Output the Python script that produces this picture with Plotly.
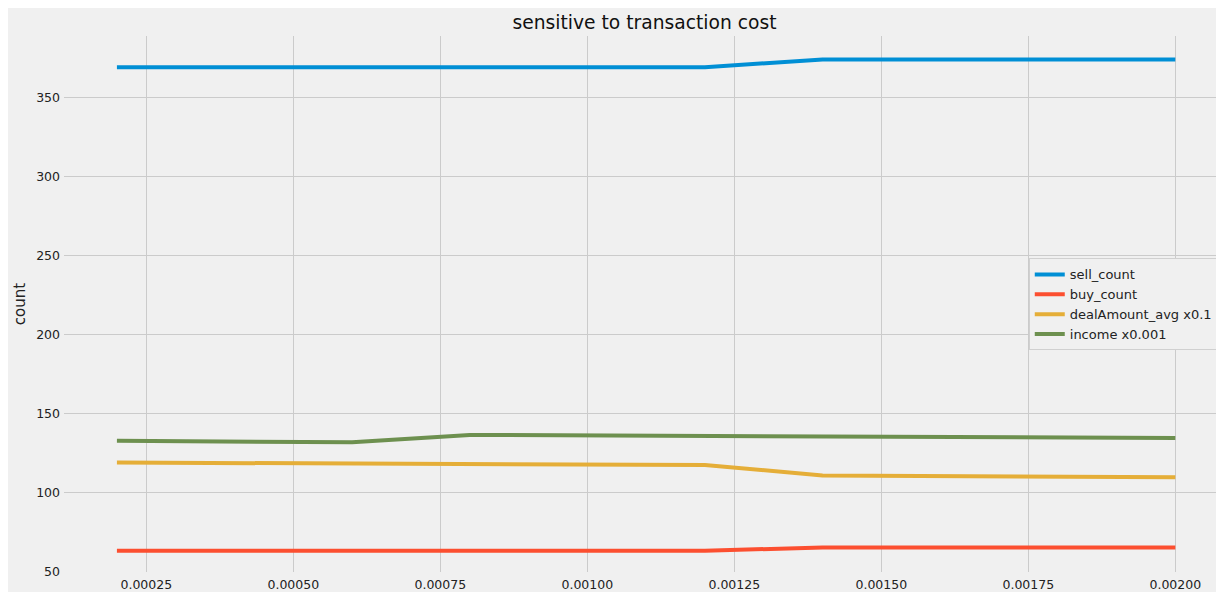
import plotly.graph_objects as go

# ---------------------------------------------------------
# DATA
# ---------------------------------------------------------

cost = [0.0002, 0.0004, 0.0006, 0.0008, 0.0010, 0.0012, 0.0014, 0.0016, 0.0018, 0.0020]

sell_count = [369, 369, 369, 369, 369, 369, 374, 374, 374, 374]
buy_count = [63, 63, 63, 63, 63, 63, 65, 65, 65, 65]
deal_amount_avg = [118.8, 118.5, 118.2, 117.9, 117.6, 117.2, 110.6, 110.2, 109.8, 109.4]
income = [132.6, 132.1, 131.6, 136.3, 136.0, 135.8, 135.6, 135.2, 134.8, 134.3]

x_ticks = [0.00025, 0.0005, 0.00075, 0.001, 0.00125, 0.0015, 0.00175, 0.002]
y_ticks = [50, 100, 150, 200, 250, 300, 350]

series = [
    ("sell_count", sell_count, "#008fd5"),
    ("buy_count", buy_count, "#fc4f30"),
    ("dealAmount_avg x0.1", deal_amount_avg, "#e5ae38"),
    ("income x0.001", income, "#6d904f"),
]

# ---------------------------------------------------------
# FIGURE
# ---------------------------------------------------------

fig = go.Figure()

for name, values, color in series:
    fig.add_trace(go.Scatter(
        x=cost,
        y=values,
        mode="lines",
        name=name,
        line={"color": color, "width": 4}
    ))

fig.update_layout(
    width=1224,
    height=592,
    paper_bgcolor="#f0f0f0",
    plot_bgcolor="#f0f0f0",
    font={"family": "DejaVu Sans", "size": 12.5, "color": "#222222"},
    margin={"l": 56, "r": 0, "t": 28, "b": 28},
    title={
        "text": "sensitive to transaction cost",
        "x": 0.497,
        "xref": "paper",
        "y": 0.986,
        "yref": "container",
        "font": {"size": 18.7, "color": "#111111"}
    },
    legend={
        "x": 0.826,
        "y": 0.585,
        "xanchor": "left",
        "yanchor": "top",
        "bgcolor": "#f0f0f0",
        "bordercolor": "#d0d0d0",
        "borderwidth": 1,
        "font": {"size": 13},
        "itemwidth": 30,
        "tracegroupgap": 0
    },
    showlegend=True
)

fig.update_xaxes(
    range=[0.00011, 0.0020964],
    tickvals=x_ticks,
    tickformat=".5f",
    automargin=False,
    showgrid=True,
    gridcolor="#cbcbcb",
    gridwidth=1,
    zeroline=False,
    showline=False,
    ticks="",
    ticklabelstandoff=3
)

fig.update_yaxes(
    range=[49.5, 388.8],
    tickvals=y_ticks,
    title={"text": "count", "font": {"size": 15}, "standoff": 6},
    automargin=False,
    showgrid=True,
    gridcolor="#cbcbcb",
    gridwidth=1,
    zeroline=False,
    showline=False,
    ticks="",
    ticklabelstandoff=3
)

fig.write_html("out.html")
